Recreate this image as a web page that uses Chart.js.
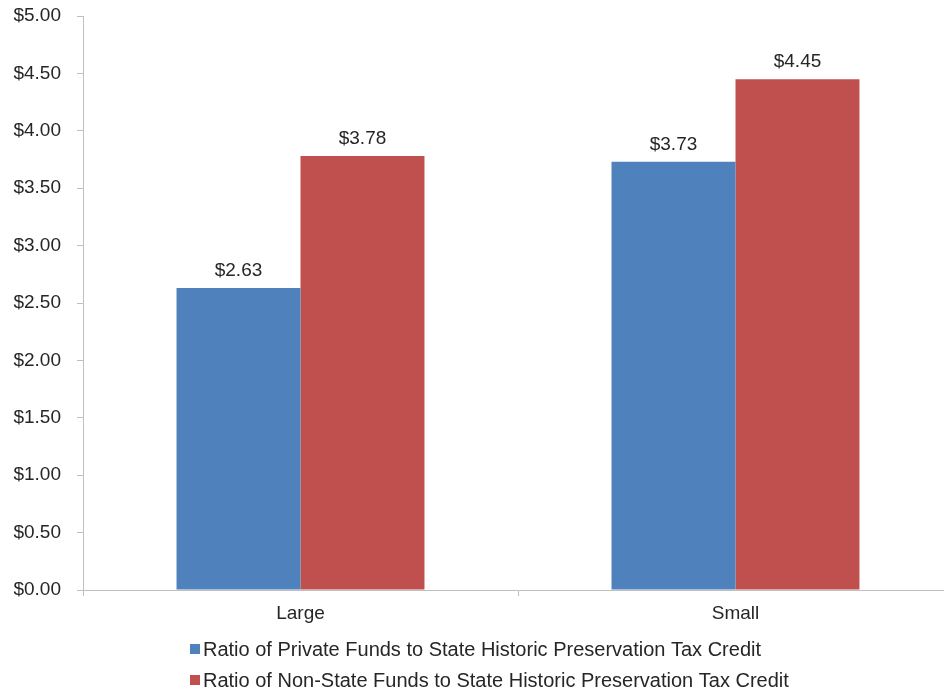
<!DOCTYPE html>
<html>
<head>
<meta charset="utf-8">
<script src="https://cdn.jsdelivr.net/npm/chart.js@4/dist/chart.umd.min.js"></script>
<style>
  html, body { margin: 0; padding: 0; background: #ffffff; overflow: hidden; }
  #wrap { width: 944px; height: 692px; overflow: hidden; }
  canvas { display: block; }
</style>
</head>
<body>
<div id="wrap"><canvas id="c" width="953" height="692"></canvas></div>
<script>
// Project size categories and the two leverage ratios for each
const categories = ['Large', 'Small'];
const privateRatio = [2.63, 3.73];
const nonStateRatio = [3.78, 4.45];
const seriesNames = [
  'Ratio of Private Funds to State Historic Preservation Tax Credit',
  'Ratio of Non-State Funds to State Historic Preservation Tax Credit'
];
const seriesColors = ['#4F81BD', '#C0504D'];

const FONT = '"Liberation Sans", Arial, sans-serif';
const TEXT = '#262626';
const AXIS = '#BFBFBF';

const money = v => '$' + Number(v).toFixed(2);

// Value labels above every bar
const valueLabels = {
  id: 'valueLabels',
  afterDatasetsDraw(chart) {
    const ctx = chart.ctx;
    ctx.save();
    ctx.font = '19px ' + FONT;
    ctx.fillStyle = TEXT;
    ctx.textAlign = 'center';
    ctx.textBaseline = 'middle';
    chart.data.datasets.forEach((ds, i) => {
      chart.getDatasetMeta(i).data.forEach((bar, j) => {
        ctx.fillText(money(ds.data[j]), bar.x, bar.y - 17);
      });
    });
    ctx.restore();
  }
};

// Stacked legend under the axis, one series per row
const stackedLegend = {
  id: 'stackedLegend',
  afterDraw(chart) {
    const ctx = chart.ctx;
    ctx.save();
    ctx.font = '20px ' + FONT;
    ctx.textAlign = 'left';
    ctx.textBaseline = 'middle';
    const x0 = 190, rows = [649, 680];
    chart.data.datasets.forEach((ds, i) => {
      const y = rows[i];
      ctx.fillStyle = ds.backgroundColor;
      ctx.fillRect(x0, y - 5, 10, 10);
      ctx.fillStyle = TEXT;
      ctx.fillText(ds.label, x0 + 13, y + 1);
    });
    ctx.restore();
  }
};

new Chart(document.getElementById('c'), {
  type: 'bar',
  data: {
    labels: categories,
    datasets: [
      { label: seriesNames[0], data: privateRatio, backgroundColor: seriesColors[0] },
      { label: seriesNames[1], data: nonStateRatio, backgroundColor: seriesColors[1] }
    ]
  },
  options: {
    responsive: false,
    animation: false,
    devicePixelRatio: 1,
    layout: { padding: { top: 16, left: 0, right: 0, bottom: 0 } },
    datasets: { bar: { barPercentage: 1.0, categoryPercentage: 0.57 } },
    plugins: {
      legend: { display: false },
      tooltip: { enabled: false }
    },
    scales: {
      x: {
        offset: true,
        grid: {
          offset: true,
          drawOnChartArea: false,
          drawTicks: true,
          tickLength: 6,
          color: AXIS
        },
        border: { color: AXIS, width: 1 },
        ticks: { color: TEXT, font: { family: FONT, size: 19 }, padding: 6 },
        afterFit(scale) {
          scale.height = 102;
          scale.paddingLeft = 0;
          scale.paddingRight = 0;
        }
      },
      y: {
        min: 0,
        max: 5,
        grid: {
          drawOnChartArea: false,
          drawTicks: true,
          tickLength: 6,
          color: AXIS
        },
        border: { color: AXIS, width: 1 },
        ticks: {
          stepSize: 0.5,
          color: TEXT,
          font: { family: FONT, size: 19 },
          padding: 16,
          callback: v => money(v)
        },
        afterFit(scale) {
          scale.width = 83;
          scale.paddingTop = 0;
          scale.paddingBottom = 0;
        }
      }
    }
  },
  plugins: [valueLabels, stackedLegend]
});
</script>
</body>
</html>
